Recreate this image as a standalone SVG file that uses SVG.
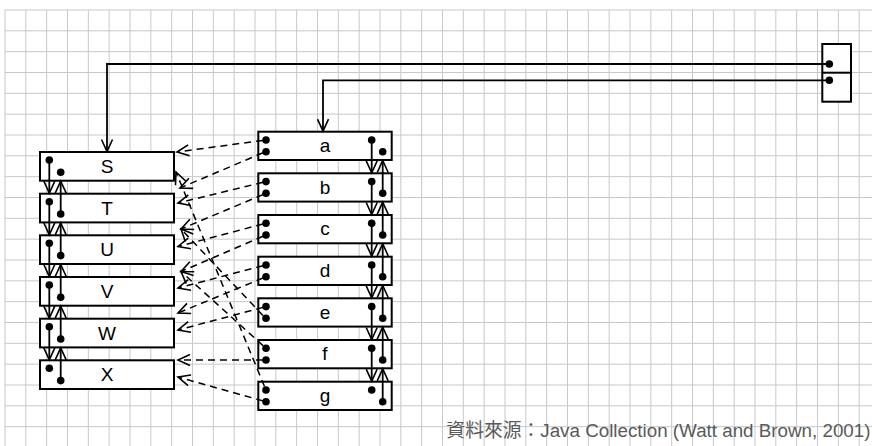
<svg xmlns="http://www.w3.org/2000/svg" width="872" height="446" viewBox="0 0 872 446">
<defs>
<style>
.grid{stroke:#c8c8c8;stroke-width:1;fill:none}
.box{fill:#fff;stroke:#000;stroke-width:2}
.lbl{font-family:"Liberation Sans",Arial,sans-serif;font-size:19px;fill:#000;text-anchor:middle}
.ptr{stroke:#000;stroke-width:1.8;fill:none;marker-end:url(#arr)}
.dash{stroke:#000;stroke-width:1.5;fill:none;stroke-dasharray:7 5;marker-end:url(#arr)}
.dot{fill:#000}
.cap{font-family:"Liberation Sans",Arial,"Noto Sans CJK TC",sans-serif;font-size:18.8px;fill:#5a5a5a;text-anchor:end}
</style>
<marker id="arr" markerUnits="userSpaceOnUse" markerWidth="15" markerHeight="13" viewBox="0 0 15 13" refX="13" refY="6.5" orient="auto">
<path d="M1,1 L13,6.5 L1,12" fill="none" stroke="#000" stroke-width="1.6" stroke-dasharray="none"/>
</marker>
</defs>
<rect width="872" height="446" fill="#fff"/>
<path class="grid" d="M5 10V446M25.83 10V446M46.67 10V446M67.5 10V446M88.33 10V446M109.17 10V446M130 10V446M150.83 10V446M171.67 10V446M192.5 10V446M213.33 10V446M234.17 10V446M255 10V446M275.83 10V446M296.67 10V446M317.5 10V446M338.33 10V446M359.17 10V446M380 10V446M400.83 10V446M421.67 10V446M442.5 10V446M463.33 10V446M484.17 10V446M505 10V446M525.83 10V446M546.67 10V446M567.5 10V446M588.33 10V446M609.17 10V446M630 10V446M650.83 10V446M671.67 10V446M692.5 10V446M713.33 10V446M734.17 10V446M755 10V446M775.83 10V446M796.67 10V446M817.5 10V446M838.33 10V446M859.17 10V446M5 10H872M5 30.83H872M5 51.67H872M5 72.5H872M5 93.33H872M5 114.17H872M5 135H872M5 155.83H872M5 176.67H872M5 197.5H872M5 218.33H872M5 239.17H872M5 260H872M5 280.83H872M5 301.67H872M5 322.5H872M5 343.33H872M5 364.17H872M5 385H872M5 405.83H872M5 426.67H872"/>

<g id="node-S"><rect class="box" x="40" y="152" width="134" height="28.7"/><text class="lbl" x="107" y="172.8">S</text><circle class="dot" cx="49.3" cy="160" r="3.8"/><circle class="dot" cx="60.7" cy="172.3" r="3.8"/></g>
<g id="node-T"><rect class="box" x="40" y="193.7" width="134" height="28.7"/><text class="lbl" x="107" y="214.5">T</text><circle class="dot" cx="49.3" cy="201.7" r="3.8"/><circle class="dot" cx="60.7" cy="214" r="3.8"/></g>
<g id="node-U"><rect class="box" x="40" y="235.3" width="134" height="28.7"/><text class="lbl" x="107" y="256.1">U</text><circle class="dot" cx="49.3" cy="243.3" r="3.8"/><circle class="dot" cx="60.7" cy="255.6" r="3.8"/></g>
<g id="node-V"><rect class="box" x="40" y="277" width="134" height="28.7"/><text class="lbl" x="107" y="297.8">V</text><circle class="dot" cx="49.3" cy="285" r="3.8"/><circle class="dot" cx="60.7" cy="297.3" r="3.8"/></g>
<g id="node-W"><rect class="box" x="40" y="318.7" width="134" height="28.7"/><text class="lbl" x="107" y="339.5">W</text><circle class="dot" cx="49.3" cy="326.7" r="3.8"/><circle class="dot" cx="60.7" cy="339" r="3.8"/></g>
<g id="node-X"><rect class="box" x="40" y="360.3" width="134" height="28.7"/><text class="lbl" x="107" y="381.1">X</text><circle class="dot" cx="49.3" cy="368.3" r="3.8"/><circle class="dot" cx="60.7" cy="380.6" r="3.8"/></g>

<g id="node-a"><rect class="box" x="258.3" y="131.7" width="133.4" height="28.3"/><text class="lbl" x="325" y="152">a</text><circle class="dot" cx="266" cy="140" r="3.8"/><circle class="dot" cx="266" cy="151.7" r="3.8"/><circle class="dot" cx="371.7" cy="140" r="3.8"/><circle class="dot" cx="382.7" cy="151.7" r="3.8"/></g>
<g id="node-b"><rect class="box" x="258.3" y="173.3" width="133.4" height="28.3"/><text class="lbl" x="325" y="193.6">b</text><circle class="dot" cx="266" cy="181.6" r="3.8"/><circle class="dot" cx="266" cy="193.3" r="3.8"/><circle class="dot" cx="371.7" cy="181.6" r="3.8"/><circle class="dot" cx="382.7" cy="193.3" r="3.8"/></g>
<g id="node-c"><rect class="box" x="258.3" y="215" width="133.4" height="28.3"/><text class="lbl" x="325" y="235.3">c</text><circle class="dot" cx="266" cy="223.3" r="3.8"/><circle class="dot" cx="266" cy="235" r="3.8"/><circle class="dot" cx="371.7" cy="223.3" r="3.8"/><circle class="dot" cx="382.7" cy="235" r="3.8"/></g>
<g id="node-d"><rect class="box" x="258.3" y="256.7" width="133.4" height="28.3"/><text class="lbl" x="325" y="277">d</text><circle class="dot" cx="266" cy="265" r="3.8"/><circle class="dot" cx="266" cy="276.7" r="3.8"/><circle class="dot" cx="371.7" cy="265" r="3.8"/><circle class="dot" cx="382.7" cy="276.7" r="3.8"/></g>
<g id="node-e"><rect class="box" x="258.3" y="298.3" width="133.4" height="28.3"/><text class="lbl" x="325" y="318.6">e</text><circle class="dot" cx="266" cy="306.6" r="3.8"/><circle class="dot" cx="266" cy="318.3" r="3.8"/><circle class="dot" cx="371.7" cy="306.6" r="3.8"/><circle class="dot" cx="382.7" cy="318.3" r="3.8"/></g>
<g id="node-f"><rect class="box" x="258.3" y="340" width="133.4" height="28.3"/><text class="lbl" x="325" y="360.3">f</text><circle class="dot" cx="266" cy="348.3" r="3.8"/><circle class="dot" cx="266" cy="360" r="3.8"/><circle class="dot" cx="371.7" cy="348.3" r="3.8"/><circle class="dot" cx="382.7" cy="360" r="3.8"/></g>
<g id="node-g"><rect class="box" x="258.3" y="381.7" width="133.4" height="28.3"/><text class="lbl" x="325" y="402">g</text><circle class="dot" cx="266" cy="390" r="3.8"/><circle class="dot" cx="266" cy="401.7" r="3.8"/><circle class="dot" cx="371.7" cy="390" r="3.8"/><circle class="dot" cx="382.7" cy="401.7" r="3.8"/></g>

<g id="node-header"><rect class="box" x="822.3" y="44" width="28.7" height="57.7"/><line x1="822.3" y1="72.7" x2="851" y2="72.7" stroke="#000" stroke-width="2"/><circle class="dot" cx="829.3" cy="64" r="3.8"/><circle class="dot" cx="829.3" cy="80.3" r="3.8"/></g>

<g id="connectors">
<path class="ptr" d="M829.3 64H107V151.5"/>
<path class="ptr" d="M829.3 80.3H323V131.2"/>

<path class="ptr" d="M49.3 160V193.2"/>
<path class="ptr" d="M49.3 201.7V234.8"/>
<path class="ptr" d="M49.3 243.3V276.5"/>
<path class="ptr" d="M49.3 285V318.2"/>
<path class="ptr" d="M49.3 326.7V359.8"/>
<path class="ptr" d="M60.7 214V181.2"/>
<path class="ptr" d="M60.7 255.6V222.9"/>
<path class="ptr" d="M60.7 297.3V264.5"/>
<path class="ptr" d="M60.7 339V306.2"/>
<path class="ptr" d="M60.7 380.6V347.9"/>

<path class="ptr" d="M371.7 140V172.8"/>
<path class="ptr" d="M371.7 181.6V214.5"/>
<path class="ptr" d="M371.7 223.3V256.2"/>
<path class="ptr" d="M371.7 265V297.8"/>
<path class="ptr" d="M371.7 306.6V339.5"/>
<path class="ptr" d="M371.7 348.3V381.2"/>
<path class="ptr" d="M382.7 193.3V160.5"/>
<path class="ptr" d="M382.7 235V202.1"/>
<path class="ptr" d="M382.7 276.7V243.8"/>
<path class="ptr" d="M382.7 318.3V285.5"/>
<path class="ptr" d="M382.7 360V327.1"/>
<path class="ptr" d="M382.7 401.7V368.8"/>

<path class="dash" d="M263 140.4L177 152"/>
<path class="dash" d="M263 152.8L180 188"/>
<path class="dash" d="M263 182.3L178 203"/>
<path class="dash" d="M263 194.6L181 229"/>
<path class="dash" d="M263 224L178 246.5"/>
<path class="dash" d="M263 236.3L181 271.5"/>
<path class="dash" d="M263 265.7L178 288"/>
<path class="dash" d="M263 278L178 313"/>
<path class="dash" d="M263 307.4L178 330"/>
<path class="dash" d="M263 315.5L181 229"/>
<path class="dash" d="M263 345.6L181 271.5"/>
<path class="dash" d="M263 360L178 360"/>
<path class="dash" d="M264.5 386.5L176 172"/>
<path class="dash" d="M263 400.9L178 377"/>
</g>

<text class="cap" x="870.5" y="436.5">資料來源：Java Collection (Watt and Brown, 2001)</text>
</svg>
